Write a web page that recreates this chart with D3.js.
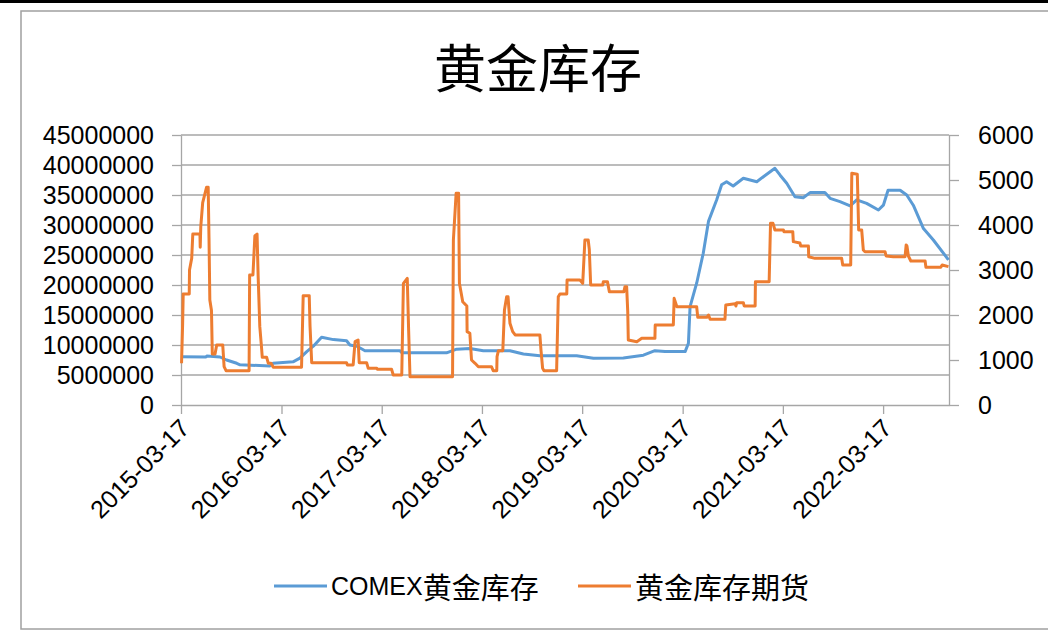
<!DOCTYPE html>
<html><head><meta charset="utf-8">
<script src="https://cdn.jsdelivr.net/npm/d3@7"></script>
<style>html,body{margin:0;padding:0;background:#fff;}svg{display:block;}</style>
</head><body>
<svg id="chart" width="1048" height="630"></svg>
<script>
const title = "黄金库存";
const seriesNames = ["COMEX黄金库存", "黄金库存期货"];
const xTickLabels = ["2015-03-17","2016-03-17","2017-03-17","2018-03-17","2019-03-17","2020-03-17","2021-03-17","2022-03-17"];
const xDomain = ["2015-03-17", "2022-11-12"];
const leftTicks = [0,5000000,10000000,15000000,20000000,25000000,30000000,35000000,40000000,45000000];
const rightTicks = [0,1000,2000,3000,4000,5000,6000];

// COMEX gold inventory (left axis)
const comexDates = ["2015-03-19","2015-06-16","2015-06-19","2015-08-06","2015-08-30","2015-10-06","2015-10-18","2016-02-04","2016-02-15","2016-04-28","2016-05-23","2016-06-17","2016-07-11","2016-08-10","2016-09-22","2016-11-09","2016-11-21","2016-12-17","2017-01-15","2017-05-22","2017-05-30","2017-11-08","2017-12-15","2018-02-01","2018-03-22","2018-06-27","2018-08-15","2018-10-14","2019-02-25","2019-04-27","2019-08-14","2019-10-26","2019-12-07","2020-01-13","2020-03-26","2020-04-07","2020-04-13","2020-05-07","2020-05-31","2020-06-19","2020-07-19","2020-08-06","2020-08-24","2020-09-17","2020-10-24","2020-12-12","2021-01-05","2021-02-16","2021-03-07","2021-03-31","2021-04-30","2021-05-30","2021-06-24","2021-08-17","2021-09-05","2021-10-11","2021-11-17","2021-12-11","2022-01-16","2022-02-28","2022-03-18","2022-04-04","2022-05-18","2022-06-11","2022-07-05","2022-08-11","2022-09-16","2022-11-10"];
const comexValues = [8050000,8000000,8150000,8000000,7500000,6950000,6700000,6500000,6950000,7200000,7800000,8900000,9800000,11300000,10900000,10700000,10000000,9800000,9050000,9050000,8700000,8700000,9300000,9400000,9050000,9050000,8500000,8200000,8200000,7800000,7850000,8300000,9050000,8900000,8900000,10300000,16400000,20300000,25300000,30600000,34200000,36700000,37200000,36500000,37800000,37200000,38050000,39450000,38300000,36950000,34700000,34550000,35400000,35400000,34450000,33900000,33200000,34200000,33600000,32500000,33300000,35800000,35800000,35000000,33300000,29400000,27500000,24200000];

// Gold inventory futures (right axis)
const futDates = ["2015-03-19","2015-03-23","2015-03-25","2015-04-16","2015-04-17","2015-04-25","2015-04-29","2015-05-25","2015-05-26","2015-05-28","2015-06-04","2015-06-18","2015-06-24","2015-06-27","2015-06-30","2015-07-06","2015-07-09","2015-07-19","2015-07-25","2015-08-16","2015-08-21","2015-08-28","2015-11-20","2015-11-22","2015-12-04","2015-12-11","2015-12-19","2015-12-23","2015-12-29","2016-01-04","2016-01-07","2016-01-23","2016-01-29","2016-02-08","2016-02-16","2016-05-29","2016-06-04","2016-06-26","2016-06-29","2016-07-05","2016-11-09","2016-11-12","2016-12-03","2016-12-10","2016-12-21","2016-12-25","2017-01-21","2017-01-27","2017-02-27","2017-03-01","2017-04-22","2017-04-28","2017-05-29","2017-06-04","2017-06-18","2017-06-23","2017-06-28","2017-11-30","2017-12-03","2017-12-13","2017-12-22","2017-12-25","2018-01-06","2018-01-21","2018-01-22","2018-02-01","2018-02-07","2018-02-20","2018-03-04","2018-04-21","2018-04-27","2018-05-10","2018-05-11","2018-05-16","2018-06-01","2018-06-07","2018-06-15","2018-06-20","2018-06-27","2018-07-07","2018-07-16","2018-10-14","2018-10-18","2018-10-24","2018-10-29","2018-12-14","2018-12-20","2018-12-26","2019-01-20","2019-01-21","2019-03-09","2019-03-19","2019-03-27","2019-04-08","2019-04-12","2019-04-17","2019-05-31","2019-06-02","2019-06-17","2019-06-24","2019-08-16","2019-08-20","2019-08-26","2019-08-30","2019-09-01","2019-10-02","2019-10-20","2019-12-07","2019-12-08","2020-02-12","2020-02-15","2020-02-25","2020-05-07","2020-05-11","2020-06-13","2020-06-19","2020-06-25","2020-08-18","2020-08-21","2020-09-24","2020-09-27","2020-09-30","2020-10-24","2020-10-27","2020-12-06","2020-12-07","2021-01-26","2021-01-31","2021-02-09","2021-02-16","2021-03-19","2021-03-21","2021-04-22","2021-04-24","2021-05-18","2021-05-21","2021-06-18","2021-06-19","2021-07-12","2021-10-17","2021-10-21","2021-11-19","2021-11-23","2021-12-13","2021-12-18","2021-12-29","2022-01-04","2022-01-10","2022-03-24","2022-03-28","2022-04-23","2022-06-05","2022-06-09","2022-06-12","2022-06-17","2022-06-26","2022-08-17","2022-08-20","2022-10-13","2022-10-18","2022-11-10"];
const futValues = [926,1815,2467,2467,3000,3259,3800,3800,3504,3963,4496,4837,4837,3704,2333,2100,1133,1133,1333,1333,852,763,763,2889,2889,3756,3800,2852,1741,1300,1059,1059,926,926,837,837,2430,2430,1741,941,941,889,889,1407,1444,941,941,815,815,793,793,667,667,2704,2815,1667,630,630,3667,4704,4704,2704,2296,2200,1630,1593,1000,926,850,850,763,763,1074,1207,1207,2111,2407,2407,1815,1630,1556,1556,1222,815,763,763,2407,2467,2467,2778,2778,2704,3667,3667,3459,2667,2667,2741,2741,2519,2519,2630,2630,2074,1444,1407,1481,1481,1778,1778,2370,2185,2185,1948,1948,2000,1904,1904,2222,2250,2200,2274,2274,2200,2200,2740,2740,4037,4037,3889,3889,3852,3852,3630,3600,3533,3533,3296,3259,3259,3111,3111,5148,5130,3889,3889,3444,3407,3407,3311,3296,3296,3556,3530,3311,3200,3200,3059,3059,3111,3074];

const colors = ["#5B9BD5", "#ED7D31"];
const parse = d3.timeParse("%Y-%m-%d");
const svg = d3.select("#chart");
const font = "'Liberation Sans','Noto Sans CJK SC',sans-serif";

// top dark band & outer frame
svg.append("rect").attr("x",0).attr("y",0).attr("width",1048).attr("height",3).attr("fill","#000");
svg.append("rect").attr("x",21).attr("y",11).attr("width",1060).attr("height",618)
  .attr("fill","#fff").attr("stroke","#a0a0a0").attr("stroke-width",1.5);

const L = 181, R = 949, T = 135, B = 405;
const x = d3.scaleTime().domain(xDomain.map(parse)).range([L, R]);
const yL = d3.scaleLinear().domain([0, 45000000]).range([B, T]);
const yR = d3.scaleLinear().domain([0, 6000]).range([B, T]);

// title
svg.append("text").attr("x",538).attr("y",88).attr("text-anchor","middle")
  .attr("font-family","'Noto Sans CJK SC',sans-serif").attr("font-size",52).attr("fill","#000").text(title);

const axisColor = "#a6a6a6";
// gridlines
svg.append("g").selectAll("line").data(leftTicks.filter(d=>d>0)).join("line")
  .attr("x1",L).attr("x2",R).attr("y1",d=>yL(d)).attr("y2",d=>yL(d))
  .attr("stroke",axisColor).attr("stroke-width",1.3);

function styleAxis(g){
  g.selectAll("path,line").attr("stroke",axisColor).attr("stroke-width",1.3);
  g.selectAll("text").attr("font-family",font).attr("font-size",25).attr("fill","#000");
}
const gL = svg.append("g").attr("transform",`translate(${L},0)`)
  .call(d3.axisLeft(yL).tickValues(leftTicks).tickSize(9).tickSizeOuter(0).tickPadding(18).tickFormat(d3.format("d")));
styleAxis(gL);
const gR = svg.append("g").attr("transform",`translate(${R},0)`)
  .call(d3.axisRight(yR).tickValues(rightTicks).tickSize(10).tickSizeOuter(0).tickPadding(19).tickFormat(d3.format("d")));
styleAxis(gR);
const gB = svg.append("g").attr("transform",`translate(0,${B})`)
  .call(d3.axisBottom(x).tickValues(xTickLabels.map(parse)).tickSize(9).tickSizeOuter(0).tickFormat((d,i)=>xTickLabels[i]));
styleAxis(gB);
gB.selectAll(".tick text").attr("text-anchor","end").attr("dy",null).attr("y",0)
  .attr("transform","translate(5,20) rotate(-45)").attr("dominant-baseline","middle");

// series lines
const lineL = d3.line().x(d=>x(d[0])).y(d=>yL(d[1]));
const lineR = d3.line().x(d=>x(d[0])).y(d=>yR(d[1]));
const comexData = comexDates.map((d,i)=>[parse(d), comexValues[i]]);
const futData = futDates.map((d,i)=>[parse(d), futValues[i]]);
svg.append("path").datum(comexData).attr("d",lineL).attr("fill","none")
  .attr("stroke",colors[0]).attr("stroke-width",3).attr("stroke-linejoin","round");
svg.append("path").datum(futData).attr("d",lineR).attr("fill","none")
  .attr("stroke",colors[1]).attr("stroke-width",3).attr("stroke-linejoin","round");

// legend
const legendItems = [{x:274, name:seriesNames[0], c:colors[0]}, {x:578, name:seriesNames[1], c:colors[1]}];
const lg = svg.append("g");
legendItems.forEach(it=>{
  lg.append("line").attr("x1",it.x).attr("x2",it.x+53).attr("y1",586).attr("y2",586)
    .attr("stroke",it.c).attr("stroke-width",3);
  const t = lg.append("text").attr("x",it.x+57).attr("y",586).attr("dominant-baseline","central")
    .attr("font-family",font).attr("font-size",25).attr("fill","#000");
  const m = it.name.match(/^([A-Za-z]*)(.*)$/);
  if (m[1]) t.append("tspan").text(m[1]);
  t.append("tspan").attr("font-family","'Noto Sans CJK SC',sans-serif").attr("font-size",29).text(m[2]);
});
</script>
</body></html>
